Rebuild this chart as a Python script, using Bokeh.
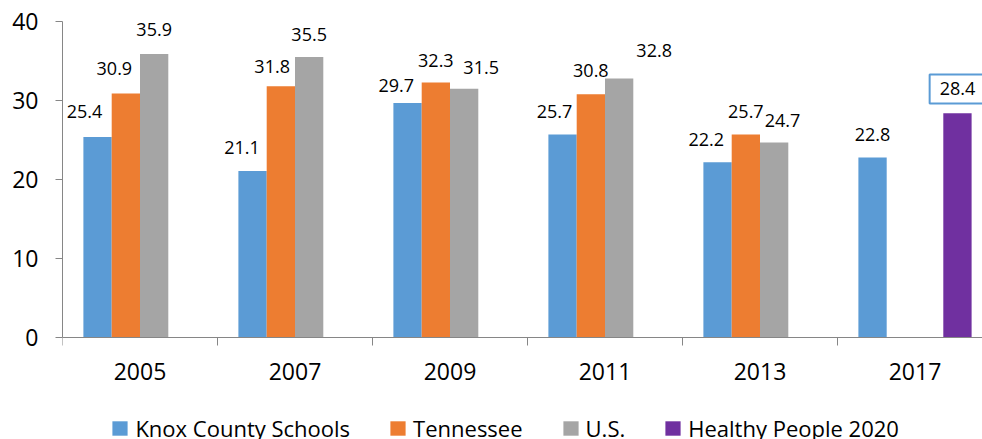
from bokeh.plotting import figure
from bokeh.models import Range1d, FixedTicker, ColumnDataSource, Legend, LegendItem
from bokeh.core.properties import value
from bokeh.embed import file_html
from bokeh.resources import INLINE

# ---- data ----
years = ["2005", "2007", "2009", "2011", "2013", "2017"]
series_names = ["Knox County Schools", "Tennessee", "U.S.", "Healthy People 2020"]
knox = [25.4, 21.1, 29.7, 25.7, 22.2, 22.8]
tennessee = [30.9, 31.8, 32.3, 30.8, 25.7, None]
us = [35.9, 35.5, 31.5, 32.8, 24.7, None]
hp2020 = [None, None, None, None, None, 28.4]
y_ticks = [0, 10, 20, 30, 40]

# ---- styling ----
colors = ["#5B9BD5", "#ED7D31", "#A5A5A5", "#7030A0"]
FONT = "Open Sans"
# label offsets in pixels (dx right, gap above bar top)
label_dx = [
    [-13, -10.5, -11.3, -8, -11.3, 0],
    [-11.5, -8.7, 0, 0, 0, 0],
    [0, 0, 17, 35, 8.3, 0],
    [0, 0, 0, 0, 0, 0],
]
label_gap = [
    [19.3, 17, 11.3, 17.3, 16.3, 16.7],
    [18.7, 14.3, 16, 17.3, 17.3, 0],
    [18, 16.7, 15, 22.3, 15.7, 0],
    [0, 0, 0, 0, 0, 16.3],
]
gap_fix = [6, 6, 6, 8]   # renderer baseline correction

bar_w = 0.1826
n_cat = len(years)
x_end = 920 / 155.0
# frame runs to the bottom of the canvas; 0 sits 101.7px above it
y_start = -40 * 101.7 / 316.3

p = figure(width=982, height=439, output_backend="svg", toolbar_location=None,
           x_range=Range1d(0, x_end), y_range=Range1d(y_start, 40),
           min_border_left=62, min_border_right=0, min_border_top=21,
           min_border_bottom=0)
p.xgrid.visible = False
p.ygrid.visible = False
p.outline_line_color = None
p.background_fill_color = "white"
p.border_fill_color = "white"

axis_col = "#868686"
# x axis, pinned at y = 0
centers = [i + 0.5 for i in range(n_cat)]
xa = p.xaxis[0]
xa.fixed_location = 0
xa.ticker = FixedTicker(ticks=centers, minor_ticks=list(range(n_cat)))
xa.major_label_overrides = {c: y for c, y in zip(centers, years)}
xa.major_tick_out = 0
xa.major_tick_in = 0
xa.minor_tick_out = 8
xa.minor_tick_in = 0
xa.minor_tick_line_color = axis_col
xa.axis_line_color = axis_col
xa.major_label_text_font = FONT
xa.major_label_text_font_size = "23px"
xa.major_label_text_color = "#000000"
xa.major_label_standoff = 17

# y axis
ya = p.yaxis[0]
ya.bounds = (0, 40)
ya.ticker = FixedTicker(ticks=y_ticks, minor_ticks=[])
ya.major_tick_out = 7
ya.major_tick_in = 0
ya.major_tick_line_color = axis_col
ya.axis_line_color = axis_col
ya.major_label_text_font = FONT
ya.major_label_text_font_size = "23px"
ya.major_label_text_color = "#000000"
ya.major_label_standoff = 17

all_series = [knox, tennessee, us, hp2020]
items = []
for k, (vals, name, col) in enumerate(zip(all_series, series_names, colors)):
    xs, tops, txt, dxs, dys = [], [], [], [], []
    for i, v in enumerate(vals):
        if v is None:
            continue
        xs.append(i + 0.5 + (k - 1.5) * bar_w)
        tops.append(v)
        txt.append(f"{v:.1f}")
        dxs.append(label_dx[k][i])
        dys.append(-(label_gap[k][i] + gap_fix[k]))
    src = ColumnDataSource(dict(x=xs, top=tops, text=txt, dx=dxs, dy=dys))
    r = p.vbar(x="x", top="top", bottom=0, width=bar_w, source=src,
               fill_color=col, line_color=None)
    items.append(LegendItem(label=name, renderers=[r]))
    if k < 3:
        p.text(x="x", y="top", text="text", x_offset="dx", y_offset="dy",
               source=src, text_align="center", text_baseline="alphabetic",
               text_font=value(FONT), text_font_size="18px", text_color="#000000")
    else:
        p.text(x="x", y="top", text="text", x_offset="dx", y_offset="dy",
               source=src, text_align="center", text_baseline="alphabetic",
               text_font=value(FONT), text_font_size="18px", text_color="#000000",
               border_line_color="#5B9BD5", border_line_width=2,
               background_fill_color="white", padding=[10, 8])

legend = Legend(items=items, orientation="horizontal", location=(48.4, -4),
                label_text_font=FONT, label_text_font_size="22px",
                label_text_color="#000000", glyph_width=19, glyph_height=18,
                label_standoff=6, spacing=38, padding=0, margin=0,
                border_line_color=None, background_fill_alpha=0)
p.add_layout(legend, "center")

open("out.html", "w").write(file_html(p, INLINE))
